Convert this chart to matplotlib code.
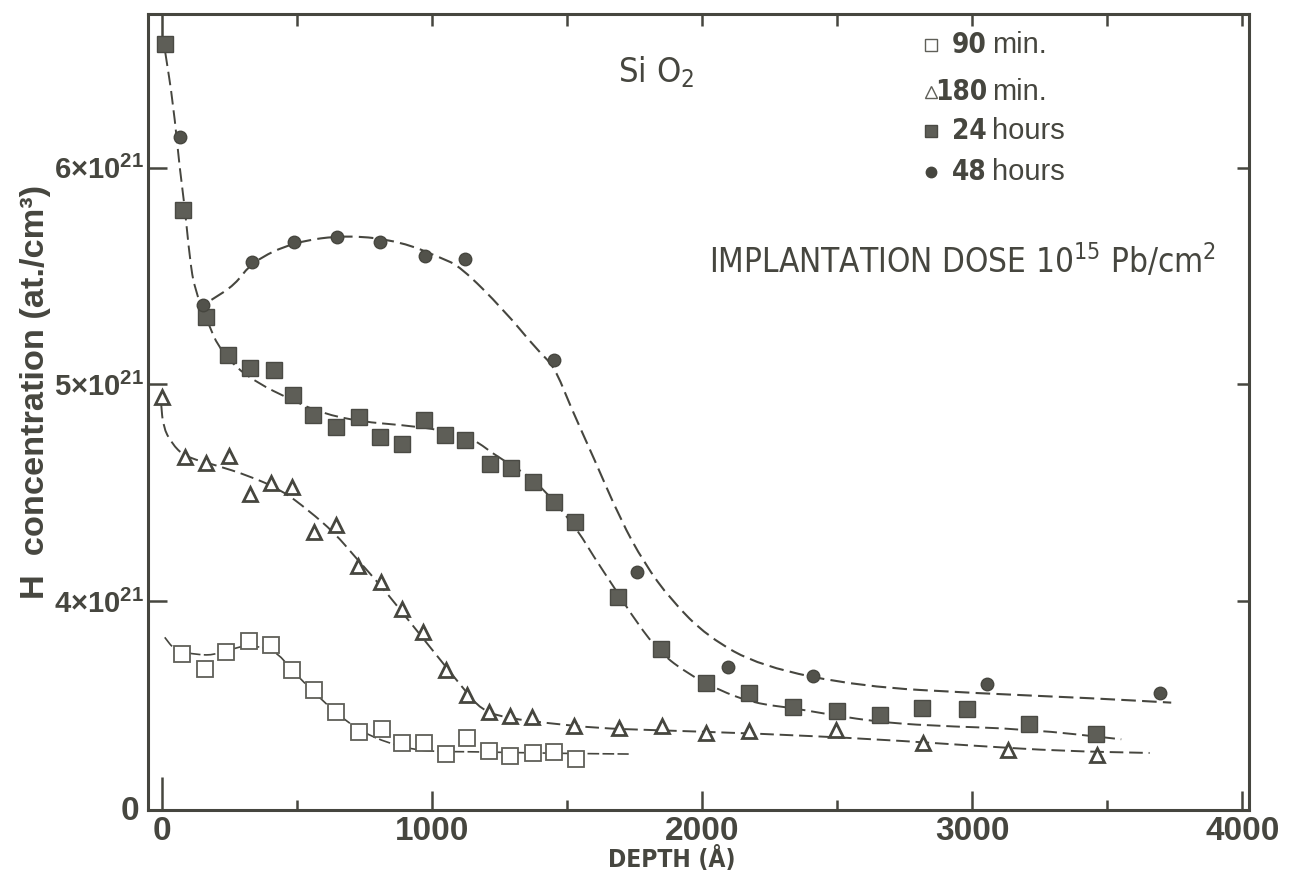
import numpy as np
import matplotlib
matplotlib.use('Agg')
import matplotlib.pyplot as plt
from matplotlib import font_manager as fm
from matplotlib.path import Path
from matplotlib.patches import PathPatch

# ---------------- data (depth in Angstrom, concentration in 1e21 at/cm3) ----------------
depth_90 = [75, 158, 238, 321, 402, 482, 562, 643, 729, 813, 890, 970, 1052, 1131, 1211,
            1289, 1372, 1450, 1532]
conc_90 = [3.757, 3.688, 3.768, 3.817, 3.797, 3.684, 3.589, 3.489, 3.396, 3.410, 3.346,
           3.346, 3.296, 3.369, 3.312, 3.288, 3.302, 3.304, 3.273]

depth_180 = [0, 86, 163, 247, 325, 405, 482, 564, 644, 727, 809, 888, 966, 1052, 1128, 1209,
             1289, 1369, 1524, 1691, 1853, 2013, 2174, 2495, 2819, 3134, 3462]
conc_180 = [4.944, 4.666, 4.638, 4.670, 4.494, 4.547, 4.526, 4.321, 4.352, 4.163, 4.088,
            3.964, 3.860, 3.684, 3.568, 3.491, 3.473, 3.468, 3.425, 3.418, 3.427, 3.392,
            3.404, 3.405, 3.348, 3.315, 3.292]

depth_24 = [12, 78, 163, 244, 326, 414, 486, 560, 646, 730, 808, 890, 970, 1048, 1122, 1215,
            1292, 1372, 1453, 1530, 1689, 1846, 2013, 2174, 2335, 2498, 2659, 2814, 2981,
            3212, 3457]
conc_24 = [6.570, 5.804, 5.311, 5.136, 5.076, 5.067, 4.951, 4.859, 4.804, 4.850, 4.758,
           4.725, 4.836, 4.767, 4.744, 4.633, 4.614, 4.552, 4.460, 4.367, 4.022, 3.779,
           3.622, 3.576, 3.512, 3.496, 3.476, 3.507, 3.502, 3.435, 3.389]

depth_48 = [66, 152, 334, 488, 649, 808, 975, 1123, 1453, 1760, 2094, 2411, 3055, 3697]
conc_48 = [6.142, 5.366, 5.566, 5.657, 5.680, 5.657, 5.592, 5.578, 5.113, 4.137, 3.699,
           3.656, 3.619, 3.576]

# hand-drawn guide curves (knots)
fit90_x = [10, 47, 133, 195, 270, 319, 418, 480, 566, 653, 739, 838, 937, 1023, 1122, 1246,
           1481, 1728]
fit90_y = [3.834, 3.774, 3.753, 3.753, 3.784, 3.799, 3.776, 3.684, 3.576, 3.476, 3.399,
           3.346, 3.315, 3.307, 3.307, 3.304, 3.299, 3.296]
fit180_x = [-3, 4, 35, 84, 195, 319, 442, 541, 640, 714, 813, 912, 1011, 1110, 1184, 1283,
            1431, 1617, 1802, 2217, 2650, 3021, 3330, 3657]
fit180_y = [4.906, 4.805, 4.729, 4.667, 4.629, 4.580, 4.513, 4.421, 4.314, 4.206, 4.068,
            3.914, 3.760, 3.607, 3.496, 3.461, 3.438, 3.415, 3.407, 3.390, 3.364, 3.333,
            3.310, 3.301]
fit24_x = [12, 41, 66, 84, 103, 121, 171, 208, 270, 356, 467, 591, 739, 887, 1036, 1135,
           1167, 1241, 1384, 1531, 1599, 1673, 1760, 1846, 1945, 2057, 2193, 2341, 2495,
           2650, 2835, 3206, 3552]
fit24_y = [6.530, 6.297, 5.989, 5.820, 5.577, 5.436, 5.282, 5.174, 5.082, 5.005, 4.936,
           4.867, 4.828, 4.813, 4.790, 4.752, 4.736, 4.667, 4.560, 4.344, 4.205, 4.066,
           3.898, 3.761, 3.668, 3.593, 3.530, 3.507, 3.473, 3.445, 3.427, 3.411, 3.364]
fit48_x = [183, 270, 334, 488, 690, 886, 1034, 1105, 1266, 1389, 1453, 1513, 1599, 1698,
           1785, 1884, 2020, 2217, 2588, 3021, 3452, 3737]
fit48_y = [5.390, 5.459, 5.566, 5.657, 5.690, 5.658, 5.583, 5.543, 5.343, 5.159, 5.082,
           4.897, 4.660, 4.376, 4.177, 4.007, 3.837, 3.700, 3.607, 3.576, 3.553, 3.533]

x_ticks = [0, 1000, 2000, 3000, 4000]
x_ticklabels = ['0', '1000', '2000', '3000', '4000']
y_ticks = [4, 5, 6]
y_ticklabels = ['4×10$^{\\mathregular{21}}$', '5×10$^{\\mathregular{21}}$',
                '6×10$^{\\mathregular{21}}$']
legend_labels = [('90', 'min.'), ('180', 'min.'), ('24', 'hours'), ('48', 'hours')]

# ---------------- fonts ----------------
NARROW, NSTRETCH = 'DejaVu Sans', 'normal'
_cands = [f for f in fm.fontManager.ttflist
          if f.stretch in ('condensed', 'semi-condensed', 'extra-condensed')
          or 'Narrow' in f.name or 'Condensed' in f.name]
_cands.sort(key=lambda f: (('Sans' not in f.name), f.name))
if _cands:
    NARROW, NSTRETCH = _cands[0].name, _cands[0].stretch
SANS = 'Liberation Sans'
plt.rcParams['font.family'] = [SANS, 'DejaVu Sans']
plt.rcParams['mathtext.fontset'] = 'dejavusans'

INK = '#46463f'

fig = plt.figure(figsize=(12.99, 8.90), dpi=100)
W, H = 1299, 890
ax = fig.add_axes([148 / W, 1 - 810 / H, (1249 - 148) / W, (810 - 13.5) / H])
ax.set_xlim(-52, 4025)
ax.set_ylim(3.038, 6.710)


def smooth_path(xs, ys):
    pts = np.column_stack([xs, ys]).astype(float)
    mids = (pts[:-1] + pts[1:]) / 2
    verts = [pts[0], mids[0]]
    codes = [Path.MOVETO, Path.LINETO]
    for i in range(1, len(pts) - 1):
        verts += [pts[i], mids[i]]
        codes += [Path.CURVE3, Path.CURVE3]
    verts.append(pts[-1])
    codes.append(Path.LINETO)
    return Path(verts, codes)


for fx, fy, dash, lw in [(fit90_x, fit90_y, (7, 2), 1.2),
                         (fit180_x, fit180_y, (7, 3), 1.4),
                         (fit24_x, fit24_y, (7, 3), 1.4),
                         (fit48_x, fit48_y, (7, 3), 1.5)]:
    p = PathPatch(smooth_path(fx, fy), fill=False, edgecolor=INK, lw=lw,
                  linestyle=(0, dash), zorder=2)
    ax.add_patch(p)

ax.plot(depth_90, conc_90, ls='none', marker='s', ms=11, mfc='white', mec='#5f5f58',
        mew=1.3, zorder=3)
ax.plot(depth_180, conc_180, ls='none', marker='^', ms=10.5, mfc='white', mec=INK,
        mew=2.0, zorder=3)
ax.plot(depth_24, conc_24, ls='none', marker='s', ms=11.5, mfc='#5e5e57', mec='#4a4a44',
        mew=1.0, zorder=3)
ax.plot(depth_48, conc_48, ls='none', marker='o', ms=9, mfc='#52524b', mec='#46463f',
        mew=1.0, zorder=3)

# ---------------- axes styling ----------------
for s in ax.spines.values():
    s.set_linewidth(2.2)
    s.set_color(INK)
ax.set_xticks(x_ticks)
ax.set_xticklabels(x_ticklabels)
ax.set_xticks([500, 1500, 2500, 3500], minor=True)
ax.set_yticks(y_ticks)
ax.set_yticklabels(y_ticklabels)
ax.tick_params(axis='both', which='both', direction='in', color=INK, width=1.8,
               top=True, right=True, labelcolor=INK)
ax.tick_params(axis='x', which='major', length=14, pad=4, labelsize=24)
ax.tick_params(axis='x', which='minor', length=7)
ax.tick_params(axis='y', which='major', length=13.5, pad=3, labelsize=21)
for lab in ax.get_xticklabels() + ax.get_yticklabels():
    lab.set_fontweight('bold')
fig.canvas.draw()
for t in ax.xaxis.get_major_ticks() + ax.xaxis.get_minor_ticks():
    t.tick2line.set_markersize(8.6)
ax.xaxis.get_major_ticks()[0].tick1line.set_markersize(24)
ax.xaxis.get_major_ticks()[0].tick2line.set_markersize(21)
for t in ax.yaxis.get_major_ticks():
    t.tick2line.set_markersize(8.6)

# y-axis base label
fig.text(130 / W, 1 - 812 / H, '0', fontsize=24, fontweight='bold', color=INK,
         ha='center', va='center')

# axis titles
ylab = fig.text(36 / W, 1 - 392 / H, 'H  concentration (at./cm³)', rotation=90, fontsize=23,
                fontweight='bold', color=INK, ha='center', va='center')
xlab = fig.text(672 / W, 1 - 859 / H, 'DEPTH (Å)', fontsize=19, fontweight='bold',
                color=INK, family=NARROW, stretch=NSTRETCH, ha='center', va='center')

# annotations
sio2 = ax.text(1828, 6.44, 'Si O$_{\\mathregular{2}}$', fontsize=28, color=INK, family=NARROW,
               stretch=NSTRETCH, ha='center', va='center')
dose = ax.text(2024, 5.57,
               'IMPLANTATION DOSE 10$^{\\mathregular{15}}$ Pb/cm$^{\\mathregular{2}}$',
               fontsize=29, color=INK, family=NARROW, stretch=NSTRETCH, ha='left',
               va='center')

# legend (hand placed like the original)
leg_y = [6.565, 6.348, 6.169, 5.980]
leg_marker = [dict(marker='s', ms=8, mfc='white', mec='#5f5f58', mew=1.0),
              dict(marker='^', ms=8, mfc='white', mec='#5f5f58', mew=1.0),
              dict(marker='s', ms=9, mfc='#5e5e57', mec='#4a4a44', mew=1.0),
              dict(marker='o', ms=7.5, mfc='#46463f', mec='#46463f', mew=1.0)]
for (num, word), yv, mk in zip(legend_labels, leg_y, leg_marker):
    ax.plot([2846], [yv], ls='none', **mk)
    ax.text(3055, yv, num, fontsize=20, fontweight='bold', color=INK, family=NARROW,
            stretch=NSTRETCH, ha='right', va='center')
    ax.text(3074, yv, word, fontsize=21, color=INK, ha='left', va='center')

# size texts so that their extents match the reference
renderer = fig.canvas.get_renderer()
for txt, target, horiz in [(dose, 506, True), (sio2, 76, True), (xlab, 128, True),
                           (ylab, 415, False)]:
    bb = txt.get_window_extent(renderer)
    cur = bb.width if horiz else bb.height
    txt.set_fontsize(txt.get_fontsize() * target / cur)

fig.savefig('out.png', dpi=100, facecolor='white')
